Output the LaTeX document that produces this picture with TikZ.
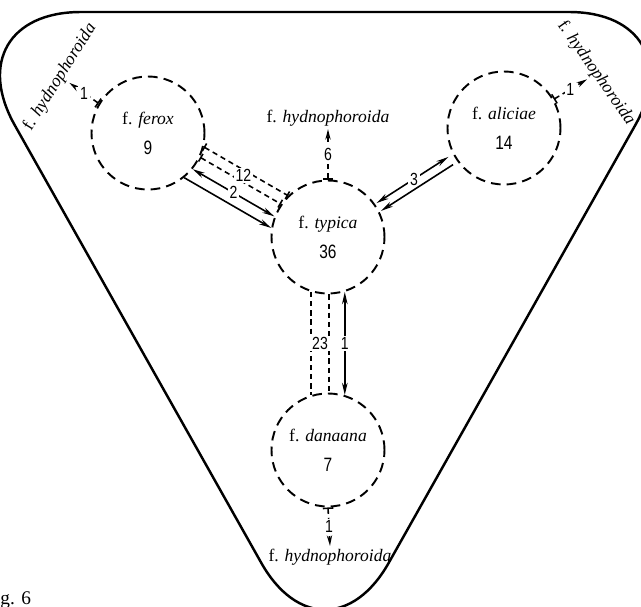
\documentclass[tikz,border=0pt]{standalone}
\usepackage{fontspec}
\setmainfont{Liberation Serif}
\newfontfamily\numfont[FakeStretch=0.8]{Liberation Sans}
\usepackage{tikz}
\usetikzlibrary{arrows.meta,positioning,calc}
\tikzset{
  formcircle/.style={
    circle, draw, line width=1.1pt, dash pattern=on 5.5pt off 3.5pt,
    minimum size=22.6mm, inner sep=0pt, align=center,
    font=\fontsize{10}{12}\selectfont
  },
  hydlabel/.style={font=\fontsize{10}{12}\selectfont, inner sep=1.5pt},
  numlabel/.style={fill=white, inner sep=1pt, font=\numfont\fontsize{10}{11}\selectfont},
  linkline/.style={line width=0.9pt},
  linkdash/.style={line width=0.9pt, dash pattern=on 3pt off 2.2pt},
  biarrow/.style={linkline, {Stealth[length=7pt,width=3.2pt]}-{Stealth[length=7pt,width=3.2pt]}},
  onearrow/.style={linkline, -{Stealth[length=7pt,width=3.2pt]}},
  hydarrow/.style={linkdash, {Bar[width=6pt]}-{Stealth[length=6pt,width=3pt]}},
  tickdash/.style={linkdash, {Bar[width=5pt]}-{Bar[width=5pt]}},
  hullline/.style={line width=1.4pt, rounded corners=26mm},
}

\begin{document}
\begin{tikzpicture}[x=0.2mm, y=-0.2mm]
\useasboundingbox (0,0) rectangle (641,607);
\draw[hullline] (325,12) -- (699,12) -- (325,676) -- (-49,12) -- cycle;

\node[formcircle] (ferox) at (148,133) {f. \textit{ferox}\\[5pt]{\numfont\fontsize{11}{12}\selectfont 9}};
\node[formcircle] (typica) at (328,237) {f. \textit{typica}\\[5pt]{\numfont\fontsize{11}{12}\selectfont 36}};
\node[formcircle] (aliciae) at (504,128) {f. \textit{aliciae}\\[5pt]{\numfont\fontsize{11}{12}\selectfont 14}};
\node[formcircle] (danaana) at (328,450) {f. \textit{danaana}\\[5pt]{\numfont\fontsize{11}{12}\selectfont 7}};

\node[hydlabel] (htop) at (328,118) {f. \textit{hydnophoroida}};
\node[hydlabel] (hbot) at (330,557) {f. \textit{hydnophoroida}};
\node[hydlabel, rotate=58] (hleft) at (60,77) {f. \textit{hydnophoroida}};
\node[hydlabel, rotate=-55] (hright) at (596,73) {f. \textit{hydnophoroida}};
\node[anchor=base west, inner sep=0pt, font=\fontsize{11}{13}\selectfont] (figno) at (0,604) {g. 6};

\draw[hydarrow] (typica.north) -- (htop.south) node[numlabel, midway] {6};
\draw[hydarrow] (danaana.south) -- (hbot.north) node[numlabel, midway] {1};
\draw[hydarrow] (ferox.149) -- (hleft.south) node[numlabel, midway] {1};
\draw[hydarrow] (aliciae.30) -- (hright.south) node[numlabel, midway] {1};

\draw[tickdash] (ferox.-14.5) -- (typica.134.5);
\draw[tickdash] (ferox.-25) -- (typica.145);
\path (ferox.-19.75) -- (typica.139.75) node[numlabel, midway] {12};
\draw[biarrow] (ferox.-39) -- (typica.159) node[numlabel, midway] {2};
\draw[onearrow] (ferox.-51) -- (typica.171);

\draw[biarrow, shorten <=1pt, shorten >=3pt] (typica.35.9) -- (aliciae.207.7) node[numlabel, midway] {3};
\draw[onearrow, shorten <=3pt, shorten >=1pt] (aliciae.216.9) -- (typica.26.7);

\draw[linkdash] (typica.-107.4) -- (danaana.107.4);
\draw[linkdash] (typica.-89) -- (danaana.89);
\path (typica.-98.2) -- (danaana.98.2) node[numlabel, midway] {23};
\draw[biarrow] (typica.-73.7) -- (danaana.73.7) node[numlabel, midway] {1};
\end{tikzpicture}
\end{document}
